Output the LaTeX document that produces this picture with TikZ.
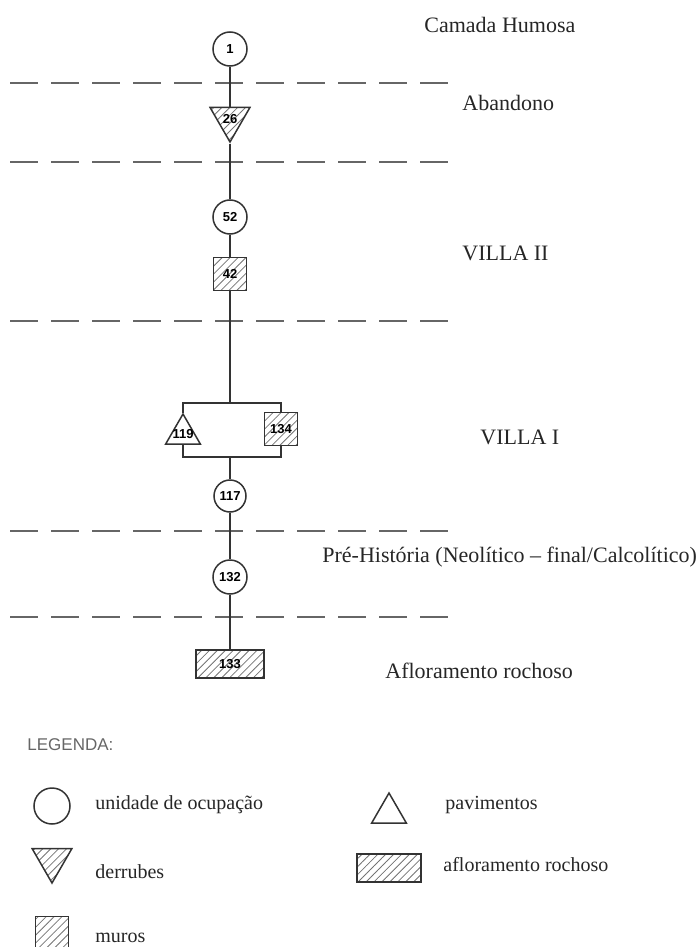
\documentclass[tikz,border=0pt]{standalone}
\usepackage{fontspec}
\setmainfont{Liberation Serif}
\setsansfont{Liberation Sans}
\usetikzlibrary{shapes.geometric,patterns.meta}

\newcommand{\unitno}[1]{\makebox[0pt]{#1}}

\begin{document}
\begin{tikzpicture}[
        x=0.5pt, y=-0.5pt,
        edge/.style={draw=black!80, line width=0.75pt},
        layerline/.style={draw=black!60, line width=1pt, dash pattern=on 14pt off 6.5pt},
        hatch/.style={pattern={Lines[angle=45,distance=2.8pt,line width=0.4pt]}, pattern color=black!55},
        numfont/.style={font=\sffamily\bfseries\fontsize{6.5}{6.5}\selectfont},
        unit/.style={circle, draw=black!80, fill=white, line width=0.75pt, minimum size=17pt, inner sep=0pt, numfont},
        wall/.style={rectangle, draw=black!80, hatch, line width=0.75pt, minimum size=16.5pt, inner sep=0pt, numfont},
        rubble/.style={regular polygon, regular polygon sides=3, shape border rotate=180, draw=black!80, hatch, line width=0.75pt, minimum size=23pt, inner sep=0pt, numfont},
        floor/.style={regular polygon, regular polygon sides=3, draw=black!80, fill=white, line width=0.75pt, minimum size=20pt, inner sep=0pt, numfont},
        rock/.style={rectangle, draw=black!80, hatch, line width=0.75pt, minimum width=34pt, minimum height=14pt, inner sep=0pt, numfont},
        layername/.style={anchor=west, inner sep=0pt, text=black!85, font=\fontsize{11}{13}\selectfont},
        legendtext/.style={anchor=west, inner sep=0pt, text=black!85, font=\fontsize{10}{12}\selectfont},
    ]
    \useasboundingbox (0,0) rectangle (699,947);

    % Layer boundaries
    \foreach \y in {83,162,321,531,617} {
        \draw[layerline] (10,\y) -- (450,\y);
    }

    % Units of the sequence
    \node[unit]   (u1)   at (230,49)  {1};
    \node[rubble] (u26)  at (230,119) {\unitno{26}};
    \node[unit]   (u52)  at (230,217) {52};
    \node[wall]   (u42)  at (230,274) {42};
    \node[floor]  (u119) at (183,434) {\unitno{119}};
    \node[wall]   (u134) at (281,429) {134};
    \node[unit, minimum size=16pt] (u117) at (230,496) {117};
    \node[unit]   (u132) at (230,577) {132};
    \node[rock]   (u133) at (230,664) {133};

    \coordinate (splittop) at (230,403);
    \coordinate (splitbot) at (230,457);

    % Stratigraphic relations
    \draw[edge] (u1) -- (u26) -- (u52) -- (u42) -- (splittop);
    \draw[edge] (u119.north) |- (splittop) -| (u134.north);
    \draw[edge] (u119.south) |- (splitbot) -| (u134.south);
    \draw[edge] (splitbot) -- (u117) -- (u132) -- (u133);

    % Phases
    \node[layername] (camada)   at (424,25)  {Camada Humosa};
    \node[layername] (abandono) at (462,103) {Abandono};
    \node[layername] (villa2)   at (462,253) {VILLA II};
    \node[layername] (villa1)   at (480,437) {VILLA I};
    \node[layername] (prehist)  at (322,557) {Pré-História (Neolítico – final/Calcolítico)};
    \node[layername] (aflora)   at (385,671) {Afloramento rochoso};

    % Legend
    \node[anchor=west, inner sep=0pt, text=black!60, font=\sffamily\fontsize{8.5}{10}\selectfont] (legenda) at (27,745) {LEGENDA:};
    \node[unit, minimum size=18pt] (lgunit)  at (52,806) {};
    \node[legendtext] (lgunittxt) at (95,805) {unidade de ocupação};
    \node[rubble] (lgrubble) at (52,860) {};
    \node[legendtext] (lgrubbletxt) at (95,872) {derrubes};
    \node[wall] (lgwall) at (52,933) {};
    \node[legendtext] (lgwalltxt) at (95,938) {muros};
    \node[floor] (lgfloor) at (389,813) {};
    \node[legendtext] (lgfloortxt) at (445,805) {pavimentos};
    \node[rock, minimum width=32pt] (lgrock) at (389,868) {};
    \node[legendtext] (lgrocktxt) at (443,865) {afloramento rochoso};

\end{tikzpicture}
\end{document}
